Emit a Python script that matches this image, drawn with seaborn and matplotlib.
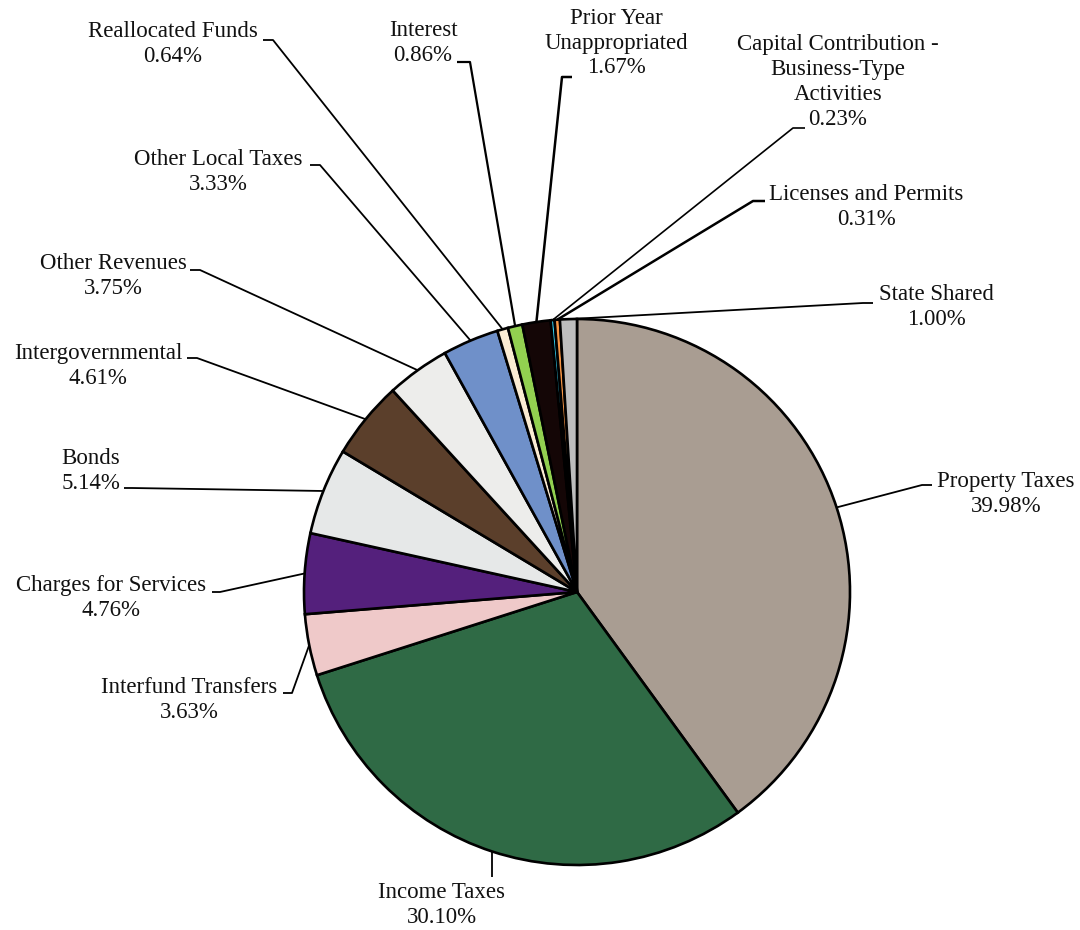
import matplotlib
matplotlib.use("Agg")
import matplotlib.pyplot as plt
import seaborn as sns
import numpy as np

# ---- data ----
categories = ["Property Taxes", "Income Taxes", "Interfund Transfers", "Charges for Services",
              "Bonds", "Intergovernmental", "Other Revenues", "Other Local Taxes",
              "Reallocated Funds", "Interest", "Prior Year\nUnappropriated",
              "Capital Contribution -\nBusiness-Type\nActivities", "Licenses and Permits",
              "State Shared"]
shares = [39.98, 30.10, 3.63, 4.76, 5.14, 4.61, 3.75, 3.33, 0.64, 0.86, 1.67, 0.23, 0.31, 1.00]
colors = ["#a99d92", "#2f6a45", "#efc9c9", "#54207c", "#e6e8e8", "#5b3f2b", "#ededeb",
          "#6f90c9", "#fbecd3", "#92d050", "#140606", "#33ccee", "#f79646", "#bdbdbd"]

# ---- layout (pixels in a 1080x930 canvas): text centre, leader knee (pie side, text side, y) ----
CX, CY, R = 577.0, 592.0, 273.0
layout = {
    "Property Taxes": ((1006, 494), (922, 932, 485), 1.3),
    "Income Taxes": ((442, 905), None, 1.3),
    "Interfund Transfers": ((189, 700), (292, 283, 693), 1.3),
    "Charges for Services": ((111, 598), (220, 212, 592), 1.3),
    "Bonds": ((91, 471), (132, 124, 488), 1.3),
    "Intergovernmental": ((98, 366), (197, 187, 358), 1.3),
    "Other Revenues": ((113, 276), (200, 190, 270), 1.3),
    "Other Local Taxes": ((218, 172), (320, 310, 165), 1.3),
    "Reallocated Funds": ((173, 44), (273, 263, 40), 1.3),
    "Interest": ((423, 43), (470, 457, 62), 1.6),
    "Prior Year\nUnappropriated": ((616, 43), (562, 572, 77), 1.8),
    "Capital Contribution -\nBusiness-Type\nActivities": ((838, 82), (793, 805, 128), 1.2),
    "Licenses and Permits": ((866, 207), (753, 765, 201), 1.8),
    "State Shared": ((936, 307), (863, 873, 303), 1.3),
}


def P(px, py):
    return ((px - CX) / R, (CY - py) / R)


sns.set_theme(style="white")
plt.rcParams["font.family"] = ["Liberation Serif", "DejaVu Serif"]

fig = plt.figure(figsize=(10.8, 9.3), dpi=100)
ax = fig.add_axes([0, 0, 1, 1])
wedges, _ = ax.pie(shares, colors=colors, startangle=90, counterclock=False, radius=1,
                   center=(0, 0), wedgeprops=dict(edgecolor="black", linewidth=1.9))
ax.set_xlim(-CX / R, (1080 - CX) / R)
ax.set_ylim(-(930 - CY) / R, CY / R)
ax.set_aspect("equal")
ax.axis("off")

for w, cat, val in zip(wedges, categories, shares):
    (tx, ty), seg, lw = layout[cat]
    mid = np.deg2rad((w.theta1 + w.theta2) / 2.0)
    ex, ey = np.cos(mid), np.sin(mid)
    if seg is None:
        kx, ky = P(ex * R + CX, 877)
        xs, ys = [ex, ex], [ey, ky]
    else:
        a = P(seg[0], seg[2])
        b = P(seg[1], seg[2])
        xs, ys = [ex, a[0], b[0]], [ey, a[1], b[1]]
    ax.plot(xs, ys, color="black", lw=lw, solid_capstyle="butt", zorder=1)
    x, y = P(tx, ty)
    ax.text(x, y, f"{cat}\n{val:.2f}%", ha="center", va="center", fontsize=16.5,
            linespacing=1.24, color="#111111")

fig.savefig("out.png", dpi=100)
